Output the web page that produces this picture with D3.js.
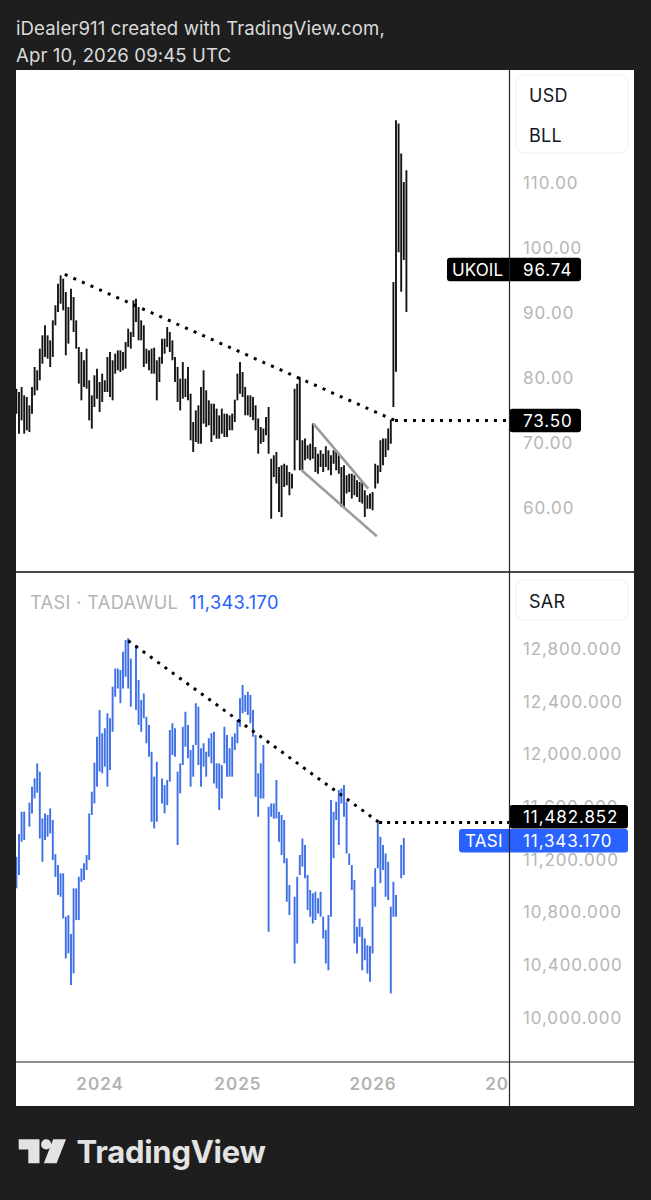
<!DOCTYPE html>
<html><head><meta charset="utf-8">
<script src="https://cdn.jsdelivr.net/npm/d3@7/dist/d3.min.js"></script>
<style>
html,body{margin:0;padding:0;background:#1e1e1e;}
svg{display:block}
</style></head><body>
<svg id="c" width="651" height="1200"></svg>
<script>
// ---------------- DATA ----------------
const firstWeek = "2023-05-22";   // Monday of the first weekly bar
const lastWeek  = "2026-04-06";   // Monday of the last weekly bar
const yearTicks = ["2024-01-01","2025-01-06","2026-01-05","2027-01-04"];

// UKOIL weekly highs / lows (USD per barrel)
const ukHigh = [78.41,77.89,78.66,77.38,77.12,75.84,78.66,81.74,81.23,84.56,
 86.61,88.15,86.61,85.84,88.92,91.23,94.56,95.84,95.33,93.28,
 90.97,93.79,92.51,88.92,84.82,84.05,82.77,84.56,79.69,77.38,
 80.46,81.48,79.43,80.71,79.69,83.28,84.05,82.77,83.79,84.30,
 84.30,84.05,85.59,87.64,87.12,92.00,92.25,90.97,88.92,88.15,
 84.56,84.30,84.56,84.71,82.77,83.28,86.10,86.10,87.89,87.12,
 85.84,83.28,81.74,79.94,82.51,79.94,81.74,77.64,73.28,75.07,
 75.84,78.66,81.23,78.15,76.61,76.10,76.10,75.33,74.30,75.33,
 74.56,74.56,74.30,74.56,76.71,80.71,82.51,80.97,78.67,77.38,
 77.38,77.13,75.85,73.80,72.51,72.26,74.05,75.59,67.64,68.15,
 68.67,66.36,66.62,66.87,66.62,65.59,65.33,78.41,79.18,80.20,
 70.46,70.72,69.69,69.95,73.03,69.44,68.41,68.92,68.41,69.54,
 68.92,68.15,68.92,68.67,68.15,66.36,66.62,65.08,65.33,65.33,
 65.08,64.31,64.05,64.05,62.77,62.00,62.26,62.51,66.87,66.62,
 70.46,70.72,70.72,72.26,73.64,94.80,119.70,119.20,114.60,110.20,
 112.00];
const ukLow = [74.56,71.48,73.53,71.48,72.00,71.74,74.56,77.38,78.15,79.69,
 82.25,83.28,83.02,81.74,83.28,88.15,90.20,91.48,90.46,83.53,
 85.33,88.92,87.12,84.56,79.18,76.61,78.66,78.41,73.53,72.25,
 75.59,76.87,74.82,76.36,77.89,77.89,77.12,76.61,80.71,81.23,
 80.97,81.23,81.48,84.82,84.56,86.36,88.66,85.84,85.84,81.74,
 82.25,81.23,80.71,80.71,76.61,79.43,82.25,83.79,84.82,84.05,
 82.77,79.43,76.36,75.07,76.87,77.12,76.61,70.46,68.66,70.20,
 69.94,69.94,73.02,72.51,72.77,70.20,71.23,70.71,70.71,71.48,
 70.97,70.97,72.00,72.00,73.28,76.61,77.64,77.12,74.31,74.31,
 74.05,73.54,72.00,68.41,69.95,70.21,71.23,68.41,58.41,64.82,
 63.80,59.44,58.67,63.28,63.54,62.00,63.03,65.85,70.46,65.85,
 65.85,67.38,67.64,67.38,67.64,65.59,65.33,66.36,65.59,66.36,
 65.85,65.08,66.87,65.85,65.33,60.21,60.21,62.26,62.51,61.49,
 62.00,61.74,60.97,60.72,58.67,59.95,59.95,59.69,63.03,63.80,
 65.59,66.62,67.90,68.92,69.95,75.60,81.00,99.40,93.30,98.20,
 90.20];

// TASI weekly highs / lows (SAR); null = no bar that week
const tasiHigh = [11222,11394,11564,11564,null,11632,11754,11817,11931,11868,
 11513,11551,11539,11589,11501,11242,11159,11096,11096,10767,
 10779,10635,10982,10982,11070,11134,11172,11235,11551,11716,
 11936,12133,12336,12159,12197,12311,12273,12513,12652,12652,
 12640,12779,12868,12880,12728,null,12830,12564,12412,12462,
 12285,12222,12020,11830,11944,null,11817,11766,11804,12184,
 12235,12197,11868,11931,12209,12323,12222,12032,12070,12387,
 12361,12045,12083,12020,12121,12159,12171,11931,11931,11918,
 12209,12146,12045,12133,12159,12260,12425,12526,12450,12475,
 12450,12336,12146,11855,11931,12070,null,11602,11627,11627,
 11804,11564,11539,11501,11210,11007,null,10918,11070,11235,
 11361,11311,11083,10969,10944,10956,10906,10956,10767,10665,
 10779,11652,11564,11640,11728,11741,11766,11640,11247,11159,
 11045,10691,10754,10691,10602,10551,10544,10994,11134,11483,
 11374,11311,11247,11184,10842,11032,10931,null,11311,11365,
 null];
const tasiLow = [10982,11083,11336,11349,null,11450,11551,11665,11708,11361,
 11184,11349,11374,11399,11197,11070,10931,10918,10754,10450,
 10488,10248,10336,10741,10741,11032,11045,11121,11197,11539,
 11627,11754,11868,11855,11906,11754,11880,12171,12437,12500,
 12387,12500,12589,12500,12361,null,12336,12222,12171,12273,
 12083,11981,11488,11437,11488,null,11627,11551,11614,11792,
 11994,11981,11311,11703,11918,12058,11969,11754,11830,12070,
 11918,11754,11906,11830,11981,11931,11779,11741,11577,11665,
 11931,11830,11830,11830,12032,12083,12209,12311,12323,12298,
 12235,12133,11678,11526,11665,11665,null,10653,11526,11513,
 11513,11336,11235,11172,10881,10779,null,10412,10564,11083,
 11146,11058,10817,10767,10716,10741,10792,10767,10602,10412,
 10361,10767,11210,11501,11311,11627,11526,11247,11159,10969,
 10564,10488,10615,10361,10437,10336,10273,10488,10842,11134,
 11020,11121,10918,10893,10184,10767,10767,null,11058,11083,
 null];

const ukTicks   = [60,70,80,90,100,110];
const tasiTicks = [10000,10400,10800,11200,11600,12000,12400,12800];
const ukLast = 96.74, ukLevel = 73.50;
const tasiLast = 11343.170, tasiLevel = 11482.852;

// drawings: [week index, price]
const ukTrend      = [[18.6, 96.0],[145.6, 73.5]];
const ukChanUpper  = [[114.2, 73.03],[135.3, 63.03]];
const ukChanLower  = [[109.7, 65.85],[138.6, 55.69]];
const tasiTrend    = [[43.0, 12862],[139.5, 11482.852]];

// ---------------- LAYOUT ----------------
const FONT = "Inter, 'Noto Sans', 'DejaVu Sans', sans-serif";
const PL = 16, PR = 634, PT = 70, PB = 1106, AX = 509.5, SPLIT = 572, TIME = 1062;
const parse = d3.utcParse("%Y-%m-%d");
const t0 = parse(firstWeek);
const weeks = d3.utcMonday.range(t0, d3.utcDay.offset(parse(lastWeek), 1));
const wk = i => new Date(t0.getTime() + i * 7 * 864e5);

const x = d3.scaleUtc().domain([weeks[0], weeks[weeks.length-1]]).range([16.4, 16.4 + 2.6*(weeks.length-1)]);
const yTop = d3.scaleLinear().domain([60,110]).range([508.3,183.3]);
const yBot = d3.scaleLinear().domain([10000,12800]).range([1017.7,648.9]);

const svg = d3.select("#c");
svg.append("rect").attr("width",651).attr("height",1200).attr("fill","#1e1e1e");

// header
const hdr = svg.append("g").attr("font-family",FONT).attr("font-size",18.6).attr("letter-spacing",0.1).attr("fill","#dadada");
hdr.append("text").attr("x",16).attr("y",34.5).text("iDealer911 created with TradingView.com,");
hdr.append("text").attr("x",16).attr("y",62).text("Apr 10, 2026 09:45 UTC");

// panel
svg.append("rect").attr("x",PL).attr("y",PT).attr("width",PR-PL).attr("height",PB-PT).attr("fill","#ffffff");

const defs = svg.append("defs");
defs.append("clipPath").attr("id","clipTop").append("rect").attr("x",PL).attr("y",PT).attr("width",AX-PL).attr("height",SPLIT-PT-1);
defs.append("clipPath").attr("id","clipBot").append("rect").attr("x",PL).attr("y",SPLIT+1).attr("width",AX-PL).attr("height",TIME-SPLIT-1);
defs.append("clipPath").attr("id","clipTime").append("rect").attr("x",PL).attr("y",TIME).attr("width",AX-PL-0.5).attr("height",PB-TIME);

function drawBars(g, hi, lo, y, color){
  const data = weeks.map((d,i)=>({d, h:hi[i], l:lo[i]})).filter(b=>b.h!=null && b.l!=null);
  g.selectAll("line.bar").data(data).join("line").attr("class","bar")
    .attr("x1",b=>x(b.d)).attr("x2",b=>x(b.d))
    .attr("y1",b=>y(b.h)).attr("y2",b=>y(b.l))
    .attr("stroke",color).attr("stroke-width",1.9);
}
function seg(g, pts, y, stroke, width, dash){
  const ln = d3.line().x(p=>x(wk(p[0]))).y(p=>y(p[1]));
  const p = g.append("path").attr("d",ln(pts)).attr("fill","none").attr("stroke",stroke).attr("stroke-width",width);
  if(dash) p.attr("stroke-dasharray",dash);
  return p;
}

// ---- top pane ----
const gTop = svg.append("g").attr("clip-path","url(#clipTop)");
drawBars(gTop, ukHigh, ukLow, yTop, "#141414");
seg(gTop, ukChanUpper, yTop, "#9c9c9c", 2.6);
seg(gTop, ukChanLower, yTop, "#9c9c9c", 2.6);
seg(gTop, ukTrend, yTop, "#000", 3, "3,6.4");
gTop.append("line").attr("x1",x(wk(ukTrend[1][0]))).attr("x2",AX).attr("y1",yTop(ukLevel)).attr("y2",yTop(ukLevel))
  .attr("stroke","#000").attr("stroke-width",3).attr("stroke-dasharray","3,6");

// ---- bottom pane ----
const gBot = svg.append("g").attr("clip-path","url(#clipBot)");
drawBars(gBot, tasiHigh, tasiLow, yBot, "#3d6fe6");
seg(gBot, tasiTrend, yBot, "#000", 3, "3,6");
gBot.append("line").attr("x1",x(wk(tasiTrend[1][0]))).attr("x2",AX).attr("y1",yBot(tasiLevel)).attr("y2",yBot(tasiLevel))
  .attr("stroke","#000").attr("stroke-width",3).attr("stroke-dasharray","3,5");

// bottom pane legend
const leg = svg.append("text").attr("x",30).attr("y",608.5).attr("font-family",FONT).attr("font-size",18.2).attr("letter-spacing",0.35);
leg.append("tspan").attr("fill","#b4b4b4").text("TASI · TADAWUL");
leg.append("tspan").attr("dx",12).attr("fill","#2962ff").text(d3.format(",.3f")(tasiLast));

// ---- price axes ----
const TICKFS = 17, TICKLS = 0.9;
function priceAxis(scale, ticks, fmt){
  const g = svg.append("g").attr("transform","translate(523,0)")
    .call(d3.axisRight(scale).tickValues(ticks).tickSize(0).tickPadding(0).tickFormat(fmt));
  g.select(".domain").remove();
  g.selectAll("text").attr("fill","#b6b6b6").style("font-family",FONT).style("font-size",TICKFS+"px").style("letter-spacing",TICKLS+"px");
  return g;
}
priceAxis(yTop, ukTicks, d3.format(".2f"));
priceAxis(yBot, tasiTicks, d3.format(",.3f"));

// currency boxes
function unitBox(y0, h, lines){
  svg.append("rect").attr("x",516).attr("y",y0).attr("width",112).attr("height",h).attr("rx",7)
    .attr("fill","#fff").attr("stroke","#efefef").attr("stroke-width",1);
  lines.forEach(l=>svg.append("text").attr("x",529).attr("y",l[1]).attr("dominant-baseline","central")
    .attr("font-family",FONT).attr("font-size",18).attr("letter-spacing",0.3).attr("fill","#131722").text(l[0]));
}
unitBox(75, 78, [["USD",95.5],["BLL",135.5]]);
unitBox(580, 40, [["SAR",601.5]]);

// price labels
const LH = 23.4;
function labelText(tx, yc, txt, ls){
  svg.append("text").attr("x",tx).attr("y",yc+0.5).attr("dominant-baseline","central")
    .attr("font-family",FONT).attr("font-size",TICKFS).attr("letter-spacing",ls==null?TICKLS:ls).attr("fill","#fff").text(txt);
}
function label(x0, x1, yc, fill, txt, tx, ls){
  svg.append("rect").attr("x",x0).attr("y",yc-LH/2).attr("width",x1-x0).attr("height",LH).attr("rx",3).attr("fill",fill);
  labelText(tx, yc, txt, ls);
}
// UKOIL
label(447, 581, yTop(ukLast), "#000", "UKOIL", 452, 0.1);
labelText(523, yTop(ukLast), d3.format(".2f")(ukLast));
label(509.5, 581, yTop(ukLevel), "#000", d3.format(".2f")(ukLevel), 523);
// TASI
const yBlue = yBot(tasiLast);
let yBlack = yBot(tasiLevel);
if (yBlue - yBlack < LH + 0.5) yBlack = yBlue - LH - 0.6;
label(509.5, 628, yBlack, "#000", d3.format(",.3f")(tasiLevel), 523);
label(459, 628, yBlue, "#2962ff", "TASI", 465, 0.3);
labelText(523, yBlue, d3.format(",.3f")(tasiLast));

// ---- time axis ----
const gTimeClip = svg.append("g").attr("clip-path","url(#clipTime)");
const gTime = gTimeClip.append("g").attr("transform",`translate(0,${TIME})`)
  .call(d3.axisBottom(x).tickValues(yearTicks.map(parse)).tickSize(0).tickPadding(0).tickFormat(d3.utcFormat("%Y")));
gTime.select(".domain").remove();
gTime.selectAll("text").attr("y",22).attr("dy",null).attr("dominant-baseline","central")
  .attr("fill","#b2b2b2").style("font-family",FONT).style("font-size","17px").style("font-weight","600").style("letter-spacing","1px");

// ---- frame lines ----
svg.append("line").attr("x1",PL).attr("x2",PR).attr("y1",SPLIT).attr("y2",SPLIT).attr("stroke","#4a4a4a").attr("stroke-width",2);
svg.append("line").attr("x1",PL).attr("x2",PR).attr("y1",TIME).attr("y2",TIME).attr("stroke","#222").attr("stroke-width",1.2);
svg.append("line").attr("x1",AX).attr("x2",AX).attr("y1",PT).attr("y2",PB).attr("stroke","#222").attr("stroke-width",1.2);

// ---- TradingView logo ----
const logo = svg.append("g").attr("fill","#e3e3e3");
logo.append("path").attr("d","M18.7,1139.3 H39.5 V1163.3 H28.3 V1149.6 H18.7 Z");
logo.append("circle").attr("cx",46.2).attr("cy",1144.4).attr("r",5.1);
logo.append("path").attr("d","M53.2,1139.3 H66 L56.6,1163.3 H43.8 Z");
logo.append("text").attr("x",76.5).attr("y",1163.3).attr("font-family",FONT).attr("font-size",31)
  .attr("font-weight",700).attr("letter-spacing",-0.25).text("TradingView");
</script>
</body></html>
